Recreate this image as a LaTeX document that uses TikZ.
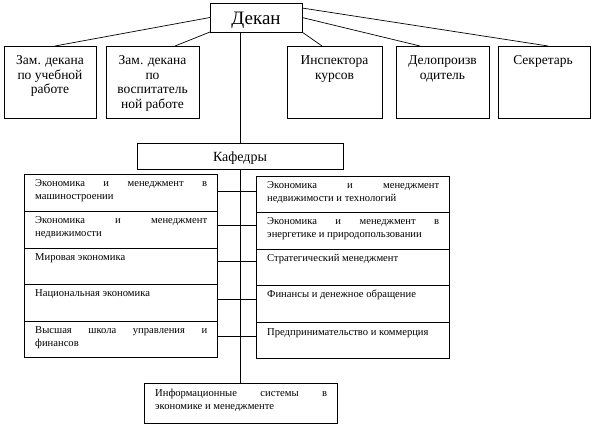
\documentclass[tikz,border=0pt]{standalone}
\usepackage{fontspec}
\setmainfont{Liberation Serif}
\usetikzlibrary{calc}
\tikzset{
  box/.style={draw, line width=0.7pt, anchor=north west, inner sep=0pt, outer sep=0pt},
  link/.style={line width=0.7pt},
  toptext/.style={anchor=base, inner sep=0pt, font=\fontsize{13.5}{14.5}\selectfont},
  rowtext/.style={anchor=base west, inner sep=0pt, font=\fontsize{10.6}{13}\selectfont},
}
\newcommand\ctrpar[2]{\parbox[t]{#1}{\centering #2}}
\newcommand\rowpar[1]{\parbox[t]{172pt}{#1}}
\begin{document}
\begin{tikzpicture}[x=1pt,y=-1pt]
\useasboundingbox (0,0) rectangle (594,427);
% Dean
\node[box, minimum width=92pt, minimum height=29pt] (dekan) at (210,3) {};
\node[anchor=base, inner sep=0pt, font=\fontsize{19}{22}\selectfont] (dekant) at (256,25) {Декан};
% top boxes
\node[box, minimum width=92pt, minimum height=72pt] (b1) at (4,46) {};
\node[box, minimum width=93pt, minimum height=72pt] (b2) at (106,46) {};
\node[box, minimum width=95pt, minimum height=72pt] (b3) at (287,46) {};
\node[box, minimum width=93pt, minimum height=72pt] (b4) at (396,46) {};
\node[box, minimum width=92pt, minimum height=72pt] (b5) at (498,46) {};
\node[toptext] (b1t) at (50,65) {\ctrpar{90pt}{Зам. декана\\по учебной\\работе}};
\node[toptext] (b2t) at (152.5,65) {\ctrpar{90pt}{Зам. декана\\по\\воспитатель\\ной работе}};
\node[toptext] (b3t) at (334.5,65) {\ctrpar{90pt}{Инспектора\\курсов}};
\node[toptext] (b4t) at (442.5,65) {\ctrpar{90pt}{Делопроизв\\одитель}};
\node[toptext] (b5t) at (543,65) {\ctrpar{90pt}{Секретарь}};
% connectors from dean
\coordinate (e1) at (55,46);
\coordinate (e2) at (175,46);
\coordinate (e3) at (322,46);
\coordinate (e4) at (420,46);
\coordinate (e5) at (548,46);
\coordinate (d5) at (302,8);
\draw[link] (dekan.west) -- (e1);
\draw[link] (dekan.south west) -- (e2);
\draw[link] (dekan.south east) -- (e3);
\draw[link] (dekan.east) -- (e4);
\draw[link] (d5) -- (e5);
% Kafedry
\node[box, minimum width=206pt, minimum height=26pt] (kaf) at (137,143) {};
\node[anchor=base, inner sep=0pt, font=\fontsize{14}{16}\selectfont] (kaft) at (240,162) {Кафедры};
% left rows
\node[box, minimum width=193pt, minimum height=37pt] (l1) at (24,174) {};
\node[box, minimum width=193pt, minimum height=37pt] (l2) at (24,211) {};
\node[box, minimum width=193pt, minimum height=36pt] (l3) at (24,248) {};
\node[box, minimum width=193pt, minimum height=37pt] (l4) at (24,284) {};
\node[box, minimum width=193pt, minimum height=36pt] (l5) at (24,321) {};
\node[rowtext] (l1t) at (35,187) {\rowpar{Экономика\hfill и\hfill менеджмент\hfill в\\машиностроении}};
\node[rowtext] (l2t) at (35,224) {\rowpar{Экономика\hfill и\hfill менеджмент\\недвижимости}};
\node[rowtext] (l3t) at (35,261) {\rowpar{Мировая экономика}};
\node[rowtext] (l4t) at (35,297) {\rowpar{Национальная экономика}};
\node[rowtext] (l5t) at (35,334) {\rowpar{Высшая\hfill школа\hfill управления\hfill и\\финансов}};
% right rows
\node[box, minimum width=193pt, minimum height=36pt] (r1) at (256,176) {};
\node[box, minimum width=193pt, minimum height=37pt] (r2) at (256,212) {};
\node[box, minimum width=193pt, minimum height=36pt] (r3) at (256,249) {};
\node[box, minimum width=193pt, minimum height=37pt] (r4) at (256,285) {};
\node[box, minimum width=193pt, minimum height=36pt] (r5) at (256,322) {};
\node[rowtext] (r1t) at (267,189) {\rowpar{Экономика\hfill и\hfill менеджмент\\недвижимости и технологий}};
\node[rowtext] (r2t) at (267,225) {\rowpar{Экономика\hfill и\hfill менеджмент\hfill в\\энергетике и природопользовании}};
\node[rowtext] (r3t) at (267,262) {\rowpar{Стратегический менеджмент}};
\node[rowtext] (r4t) at (267,298) {\rowpar{Финансы и денежное обращение}};
\node[rowtext] (r5t) at (267,335) {\rowpar{Предпринимательство и коммерция}};
% bottom box
\node[box, minimum width=193pt, minimum height=40pt] (inf) at (144,383) {};
\node[rowtext] (inft) at (155,396) {\rowpar{Информационные\hfill системы\hfill в\\экономике и менеджменте}};
% spine
\draw[link] (dekan.south -| kaf.north) -- (kaf.north);
\draw[link] (kaf.south) -- (kaf.south |- inf.north);
\foreach \i/\yy in {1/191,2/225,3/261,4/299,5/336}{
  \coordinate (s\i) at (240,\yy);
  \draw[link] (s\i -| l\i.east) -- (s\i -| r\i.west);
}
\end{tikzpicture}
\end{document}
